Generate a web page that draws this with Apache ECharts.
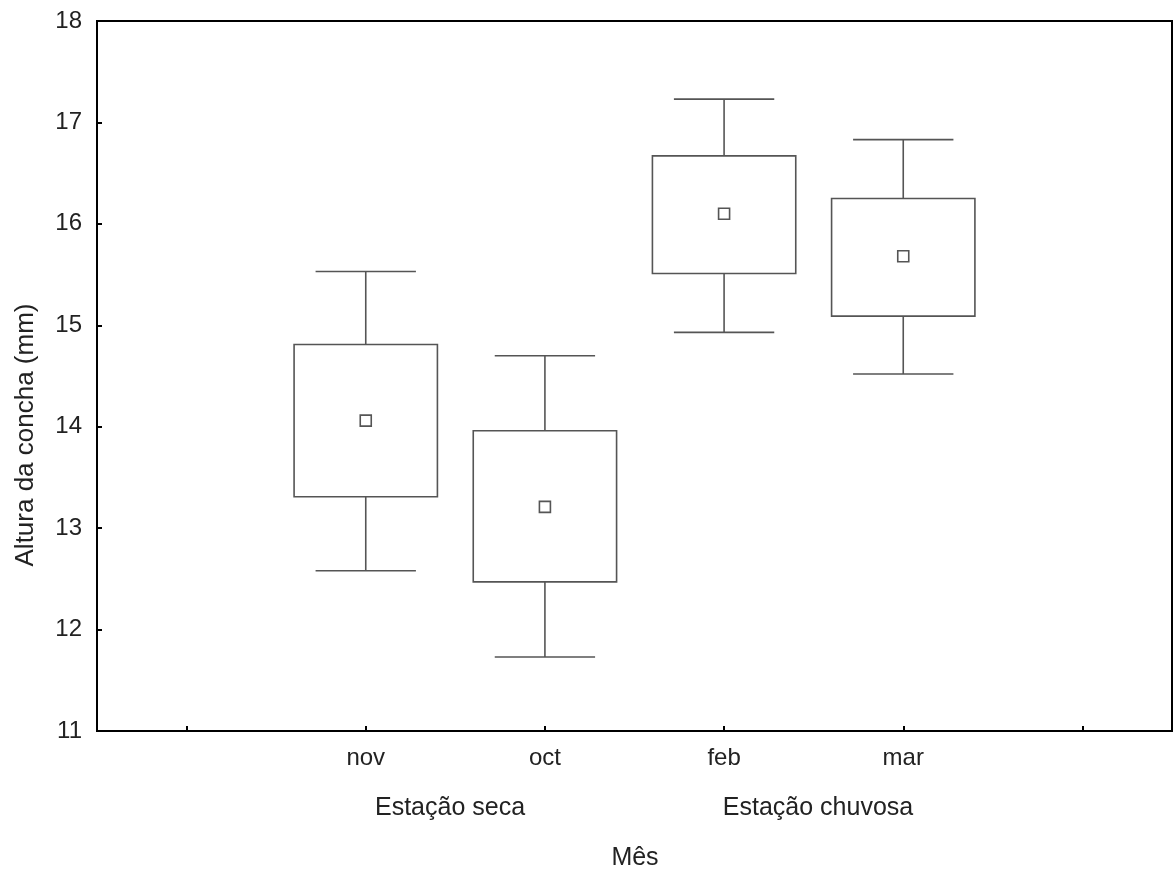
<!DOCTYPE html>
<html>
<head>
<meta charset="utf-8">
<script src="https://cdn.jsdelivr.net/npm/echarts@6/dist/echarts.min.js"></script>
<style>html,body{margin:0;padding:0;background:#fff;}#c{width:1173px;height:874px;}</style>
</head>
<body>
<div id="c"></div>
<script>
var categories = ['', 'nov', 'oct', 'feb', 'mar', ''];
var catIndex = [1, 2, 3, 4];
var whiskerLow = [12.58, 11.73, 14.93, 14.52];
var boxLow = [13.31, 12.47, 15.51, 15.09];
var means = [14.06, 13.21, 16.10, 15.68];
var boxHigh = [14.81, 13.96, 16.67, 16.25];
var whiskerHigh = [15.53, 14.70, 17.23, 16.83];
var yTicks = [11, 12, 13, 14, 15, 16, 17, 18];
var seasonLabels = ['Estação seca', 'Estação chuvosa'];
var xTitle = 'Mês';
var yTitle = 'Altura da concha (mm)';

var FONT = '"Liberation Sans", Arial, sans-serif';
var TXT = '#222';
var data = catIndex.map(function (c, i) {
  return [c, whiskerLow[i], boxLow[i], means[i], boxHigh[i], whiskerHigh[i]];
});

var chart = echarts.init(document.getElementById('c'));
chart.setOption({
  animation: false,
  backgroundColor: '#fff',
  grid: { left: 97, right: 1, top: 21, bottom: 143, show: true, borderColor: '#000', borderWidth: 2, backgroundColor: 'transparent' },
  xAxis: {
    type: 'category',
    data: categories,
    boundaryGap: true,
    axisLine: { lineStyle: { color: '#000', width: 2 } },
    axisTick: { show: true, inside: true, length: 5, alignWithLabel: true, lineStyle: { color: '#000', width: 2 } },
    axisLabel: { color: TXT, fontSize: 24, fontFamily: FONT, margin: 15 },
    splitLine: { show: false }
  },
  yAxis: {
    type: 'value',
    min: yTicks[0],
    max: yTicks[yTicks.length - 1],
    interval: 1,
    axisLine: { show: true, lineStyle: { color: '#000', width: 2 } },
    axisTick: { show: true, inside: true, length: 5, lineStyle: { color: '#000', width: 2 } },
    axisLabel: { color: TXT, fontSize: 24, fontFamily: FONT, margin: 15 },
    splitLine: { show: false }
  },
  series: [{
    type: 'custom',
    data: data,
    encode: { x: 0, y: [1, 2, 3, 4, 5] },
    renderItem: function (params, api) {
      var c = api.value(0);
      var band = api.size([1, 0])[0];
      var bw = band * 0.80 / 2;
      var cw = band * 0.56 / 2;
      var pLo = api.coord([c, api.value(1)]);
      var pQ1 = api.coord([c, api.value(2)]);
      var pM = api.coord([c, api.value(3)]);
      var pQ3 = api.coord([c, api.value(4)]);
      var pHi = api.coord([c, api.value(5)]);
      var x = pM[0];
      var st = { stroke: '#555', lineWidth: 1.6, fill: null };
      return {
        type: 'group',
        children: [
          { type: 'rect', shape: { x: x - bw, y: pQ3[1], width: 2 * bw, height: pQ1[1] - pQ3[1] }, style: { stroke: '#555', lineWidth: 1.6, fill: 'transparent' } },
          { type: 'line', shape: { x1: x, y1: pQ3[1], x2: x, y2: pHi[1] }, style: st },
          { type: 'line', shape: { x1: x, y1: pQ1[1], x2: x, y2: pLo[1] }, style: st },
          { type: 'line', shape: { x1: x - cw, y1: pHi[1], x2: x + cw, y2: pHi[1] }, style: st },
          { type: 'line', shape: { x1: x - cw, y1: pLo[1], x2: x + cw, y2: pLo[1] }, style: st },
          { type: 'rect', shape: { x: x - 5.5, y: pM[1] - 5.5, width: 11, height: 11 }, style: { stroke: '#555', lineWidth: 1.6, fill: '#fff' } }
        ]
      };
    }
  }],
  graphic: [
    { type: 'text', x: 450, y: 808, style: { text: seasonLabels[0], font: '25px ' + FONT, fill: TXT, textAlign: 'center', textVerticalAlign: 'middle' } },
    { type: 'text', x: 818, y: 808, style: { text: seasonLabels[1], font: '25px ' + FONT, fill: TXT, textAlign: 'center', textVerticalAlign: 'middle' } },
    { type: 'text', x: 635, y: 858, style: { text: xTitle, font: '25px ' + FONT, fill: TXT, textAlign: 'center', textVerticalAlign: 'middle' } },
    { type: 'text', x: 26, y: 435, rotation: Math.PI / 2, style: { text: yTitle, font: '26px ' + FONT, fill: TXT, textAlign: 'center', textVerticalAlign: 'middle' } }
  ]
});
</script>
</body>
</html>
